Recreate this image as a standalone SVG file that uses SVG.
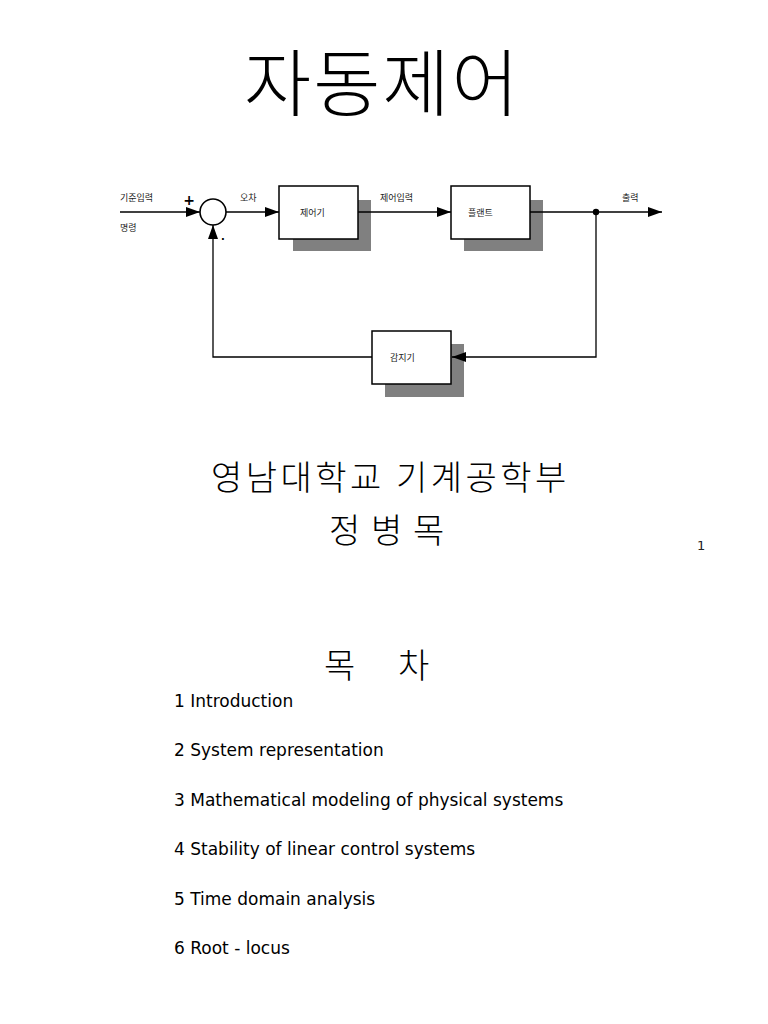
<svg xmlns="http://www.w3.org/2000/svg" width="768" height="1024" viewBox="0 0 768 1024">
<style>
.kr{font-family:"Noto Sans CJK KR","Noto Sans",sans-serif;fill:#000}
.en{font-family:"DejaVu Sans",sans-serif;fill:#000;font-size:17px}
.lbl{font-family:"Noto Sans CJK KR",sans-serif;font-size:9px;fill:#222}
.box{fill:#fff;stroke:#000;stroke-width:1.5}
.sh{fill:#808080}
.ln{fill:none;stroke:#000;stroke-width:1.3}
</style>
<defs>
<marker id="ah" viewBox="0 0 14 10" refX="14" refY="5" markerWidth="14" markerHeight="10" markerUnits="userSpaceOnUse" orient="auto">
<path d="M0,0 L14,5 L0,10 Z" fill="#000"/>
</marker>
</defs>
<rect width="768" height="1024" fill="#fff"/>
<text class="kr" x="244" y="110" font-size="73" font-weight="300" letter-spacing="2">자동제어</text>

<g id="sum">
<circle cx="213" cy="212" r="13" fill="#fff" stroke="#000" stroke-width="1.6"/>
<text x="189" y="205" font-family="DejaVu Sans,sans-serif" font-size="14" font-weight="bold" text-anchor="middle">+</text>
<text x="223" y="240" font-family="DejaVu Sans,sans-serif" font-size="10" font-weight="bold" text-anchor="middle">.</text>
</g>

<g id="controller">
<rect class="sh" x="293" y="200" width="78" height="51"/>
<rect class="box" x="279" y="186" width="79" height="53"/>
<text class="lbl" x="300" y="216">제어기</text>
</g>

<g id="plant">
<rect class="sh" x="464" y="200" width="79" height="51"/>
<rect class="box" x="451" y="186" width="79" height="53"/>
<text class="lbl" x="468" y="216">플랜트</text>
</g>

<g id="sensor">
<rect class="sh" x="385" y="344" width="79" height="53"/>
<rect class="box" x="372" y="331" width="79" height="53"/>
<text class="lbl" x="390" y="361">감지기</text>
</g>

<g id="connectors">
<line class="ln" x1="120" y1="212" x2="200" y2="212" marker-end="url(#ah)"/>
<line class="ln" x1="226" y1="212" x2="279" y2="212" marker-end="url(#ah)"/>
<line class="ln" x1="358" y1="212" x2="451" y2="212" marker-end="url(#ah)"/>
<line class="ln" x1="530" y1="212" x2="662" y2="212" marker-end="url(#ah)"/>
<polyline class="ln" points="596,212 596,357 452,357" marker-end="url(#ah)"/>
<polyline class="ln" points="372,357 213,357 213,225" marker-end="url(#ah)"/>
<circle cx="596" cy="212" r="3.2" fill="#000"/>
<text class="lbl" x="120" y="201">기준입력</text>
<text class="lbl" x="120" y="231">명령</text>
<text class="lbl" x="240" y="201">오차</text>
<text class="lbl" x="380" y="201">제어입력</text>
<text class="lbl" x="622" y="201">출력</text>
</g>

<text class="kr" x="211" y="490" font-size="34" font-weight="300" letter-spacing="3.5">영남대학교 기계공학부</text>
<text class="kr" y="543" font-size="34" font-weight="300"><tspan x="329">정</tspan> <tspan x="371">병</tspan> <tspan x="413">목</tspan></text>
<text x="697" y="550" font-family="DejaVu Sans,sans-serif" font-size="13" fill="#222">1</text>
<text class="kr" y="678" font-size="34" font-weight="300"><tspan x="324">목</tspan> <tspan x="398">차</tspan></text>

<text class="en" x="174" y="707">1 Introduction</text>
<text class="en" x="174" y="756">2 System representation</text>
<text class="en" x="174" y="806">3 Mathematical modeling of physical systems</text>
<text class="en" x="174" y="855">4 Stability of linear control systems</text>
<text class="en" x="174" y="905">5 Time domain analysis</text>
<text class="en" x="174" y="954">6 Root - locus</text>
</svg>
